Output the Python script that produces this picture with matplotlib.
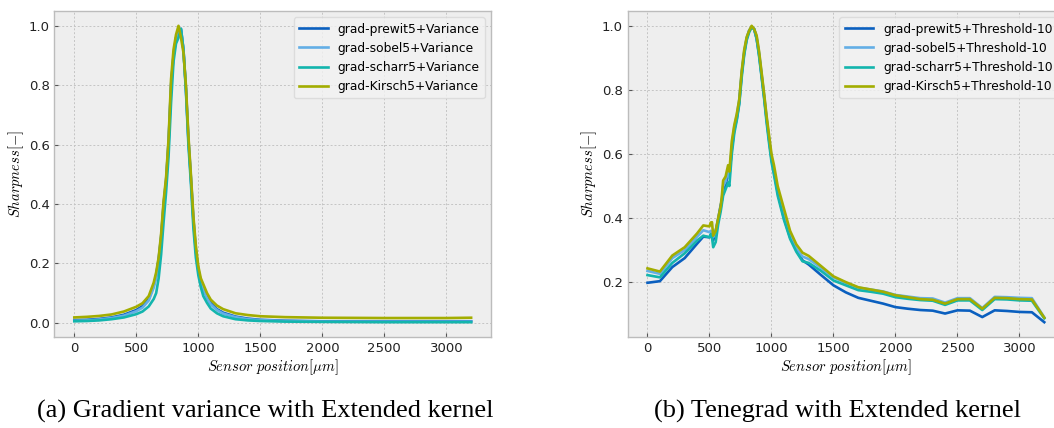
import matplotlib
matplotlib.use("Agg")
import matplotlib.pyplot as plt

plt.rcParams["mathtext.fontset"] = "cm"
plt.rcParams["font.family"] = "DejaVu Sans"

# sharpness curves, gradient variance (extended kernel)
pos_var = [0, 100, 200, 300, 400, 500, 550, 600, 640, 660, 680, 700, 720, 740, 760, 780,
           800, 820, 840, 860, 880, 900, 920, 940, 960, 980, 1000, 1020, 1040, 1070, 1100,
           1150, 1200, 1300, 1400, 1500, 1700, 2000, 2500, 3000, 3200]
prewit_var = [0.009, 0.010, 0.013, 0.018, 0.027, 0.043, 0.056, 0.080, 0.125, 0.160, 0.215,
              0.290, 0.400, 0.480, 0.610, 0.800, 0.900, 0.960, 0.980, 0.990, 0.920, 0.790,
              0.620, 0.490, 0.350, 0.245, 0.180, 0.140, 0.115, 0.088, 0.066, 0.046, 0.034,
              0.021, 0.014, 0.010, 0.007, 0.005, 0.005, 0.005, 0.005]
sobel_var = [0.007, 0.008, 0.011, 0.016, 0.024, 0.039, 0.051, 0.075, 0.118, 0.152, 0.205,
             0.280, 0.390, 0.470, 0.600, 0.790, 0.900, 0.950, 0.975, 0.985, 0.920, 0.785,
             0.615, 0.485, 0.345, 0.240, 0.175, 0.135, 0.110, 0.083, 0.062, 0.043, 0.031,
             0.019, 0.012, 0.009, 0.006, 0.004, 0.004, 0.004, 0.004]
scharr_var = [0.005, 0.006, 0.008, 0.012, 0.018, 0.029, 0.038, 0.055, 0.080, 0.100, 0.150,
              0.230, 0.340, 0.440, 0.560, 0.740, 0.880, 0.940, 0.960, 0.990, 0.920, 0.780,
              0.600, 0.470, 0.320, 0.220, 0.160, 0.120, 0.090, 0.067, 0.048, 0.032, 0.022,
              0.012, 0.008, 0.006, 0.004, 0.003, 0.002, 0.002, 0.002]
kirsch_var = [0.018, 0.020, 0.023, 0.028, 0.038, 0.054, 0.066, 0.090, 0.135, 0.170, 0.220,
              0.300, 0.410, 0.490, 0.620, 0.820, 0.920, 0.970, 1.000, 0.960, 0.910, 0.800,
              0.630, 0.500, 0.360, 0.260, 0.190, 0.150, 0.130, 0.100, 0.078, 0.058, 0.046,
              0.032, 0.026, 0.022, 0.019, 0.017, 0.016, 0.016, 0.017]

# sharpness curves, Tenegrad threshold 10 (extended kernel)
pos_ten = [0, 100, 200, 300, 400, 450, 500, 510, 520, 530, 550, 570, 590, 600, 610, 630,
           650, 660, 680, 700, 720, 740, 760, 780, 800, 820, 840, 860, 880, 900, 920, 940,
           960, 980, 1000, 1020, 1050, 1100, 1150, 1200, 1250, 1300, 1400, 1500, 1600, 1700,
           1800, 1900, 2000, 2100, 2200, 2300, 2400, 2500, 2600, 2700, 2800, 2900, 3000,
           3100, 3200]
prewit_ten = [0.198, 0.203, 0.247, 0.275, 0.320, 0.342, 0.340, 0.345, 0.352, 0.330, 0.360,
              0.397, 0.440, 0.455, 0.480, 0.500, 0.545, 0.530, 0.615, 0.675, 0.710, 0.760,
              0.850, 0.915, 0.960, 0.985, 0.995, 0.990, 0.960, 0.910, 0.845, 0.780, 0.710,
              0.645, 0.585, 0.545, 0.480, 0.400, 0.340, 0.300, 0.268, 0.255, 0.222, 0.190,
              0.168, 0.151, 0.142, 0.133, 0.122, 0.117, 0.113, 0.111, 0.102, 0.112, 0.111,
              0.091, 0.112, 0.110, 0.107, 0.106, 0.075]
sobel_ten = [0.235, 0.226, 0.275, 0.300, 0.342, 0.362, 0.356, 0.360, 0.350, 0.340, 0.355,
             0.395, 0.430, 0.460, 0.500, 0.515, 0.550, 0.525, 0.625, 0.685, 0.720, 0.770,
             0.855, 0.920, 0.962, 0.985, 0.998, 0.990, 0.965, 0.915, 0.850, 0.785, 0.715,
             0.650, 0.590, 0.550, 0.485, 0.410, 0.350, 0.305, 0.280, 0.272, 0.245, 0.215,
             0.198, 0.183, 0.177, 0.171, 0.160, 0.155, 0.150, 0.149, 0.136, 0.150, 0.150,
             0.119, 0.154, 0.153, 0.151, 0.150, 0.090]
scharr_ten = [0.222, 0.215, 0.260, 0.290, 0.330, 0.345, 0.340, 0.350, 0.340, 0.309, 0.325,
              0.380, 0.420, 0.445, 0.470, 0.490, 0.510, 0.500, 0.600, 0.665, 0.705, 0.755,
              0.840, 0.910, 0.955, 0.980, 0.995, 0.990, 0.960, 0.905, 0.840, 0.775, 0.700,
              0.635, 0.575, 0.535, 0.470, 0.395, 0.335, 0.295, 0.265, 0.260, 0.235, 0.205,
              0.190, 0.175, 0.170, 0.164, 0.153, 0.148, 0.144, 0.142, 0.129, 0.143, 0.143,
              0.113, 0.147, 0.146, 0.143, 0.142, 0.087]
kirsch_ten = [0.243, 0.233, 0.283, 0.309, 0.352, 0.377, 0.374, 0.386, 0.387, 0.345, 0.360,
              0.400, 0.436, 0.470, 0.517, 0.530, 0.565, 0.545, 0.640, 0.690, 0.725, 0.770,
              0.860, 0.925, 0.965, 0.985, 1.000, 0.990, 0.970, 0.920, 0.855, 0.790, 0.720,
              0.660, 0.600, 0.565, 0.500, 0.430, 0.360, 0.318, 0.292, 0.282, 0.250, 0.218,
              0.200, 0.184, 0.177, 0.170, 0.159, 0.153, 0.147, 0.145, 0.133, 0.147, 0.147,
              0.117, 0.151, 0.150, 0.147, 0.146, 0.089]

names = ["grad-prewit5", "grad-sobel5", "grad-scharr5", "grad-Kirsch5"]
colors = ["#0a5fbf", "#63aee6", "#13b5ad", "#a3ad00"]


def style_axes(ax):
    ax.set_facecolor("#eeeeee")
    for s in ax.spines.values():
        s.set_color("#bcbcbc")
        s.set_linewidth(1.0)
    ax.grid(True, color="#c4c4c4", linestyle=(0, (2, 2)), linewidth=0.7)
    ax.set_axisbelow(True)
    ax.tick_params(direction="in", length=3, color="#555555", labelsize=9.5,
                   labelcolor="#222222", top=False, right=False)
    ax.set_xticks([0, 500, 1000, 1500, 2000, 2500, 3000])
    ax.set_xlabel(r"$Sensor\ position[\mu m]$", fontsize=10.5, labelpad=2)
    ax.set_ylabel(r"$Sharpness[-]$", fontsize=10.5, labelpad=2)


fig = plt.figure(figsize=(10.54, 4.28), dpi=100)
ax1 = fig.add_axes([0.0517, 0.2126, 0.4141, 0.7617])
ax2 = fig.add_axes([0.5955, 0.2126, 0.4141, 0.7617])

for ax in (ax1, ax2):
    style_axes(ax)

for n, c, y in zip(names, colors, [prewit_var, sobel_var, scharr_var, kirsch_var]):
    ax1.plot(pos_var, y, color=c, lw=1.9, label=n + "+Variance")
for n, c, y in zip(names, colors, [prewit_ten, sobel_ten, scharr_ten, kirsch_ten]):
    ax2.plot(pos_ten, y, color=c, lw=1.9, label=n + "+Threshold-10")

ax1.set_yticks([0.0, 0.2, 0.4, 0.6, 0.8, 1.0])
ax2.set_yticks([0.2, 0.4, 0.6, 0.8, 1.0])

for ax in (ax1, ax2):
    leg = ax.legend(loc="upper right", fontsize=8.8, frameon=True, fancybox=True,
                    handlelength=2.3, borderpad=0.45, labelspacing=0.5)
    leg.get_frame().set_facecolor("#f2f2f2")
    leg.get_frame().set_edgecolor("#d8d8d8")

fig.text(265 / 1054, 1 - 411 / 428, "(a) Gradient variance with Extended kernel",
         family="Liberation Serif", fontsize=19, ha="center", va="center")
fig.text(838 / 1054, 1 - 411 / 428, "(b) Tenegrad with Extended kernel",
         family="Liberation Serif", fontsize=19, ha="center", va="center")

fig.savefig("out.png", dpi=100, facecolor="white")
